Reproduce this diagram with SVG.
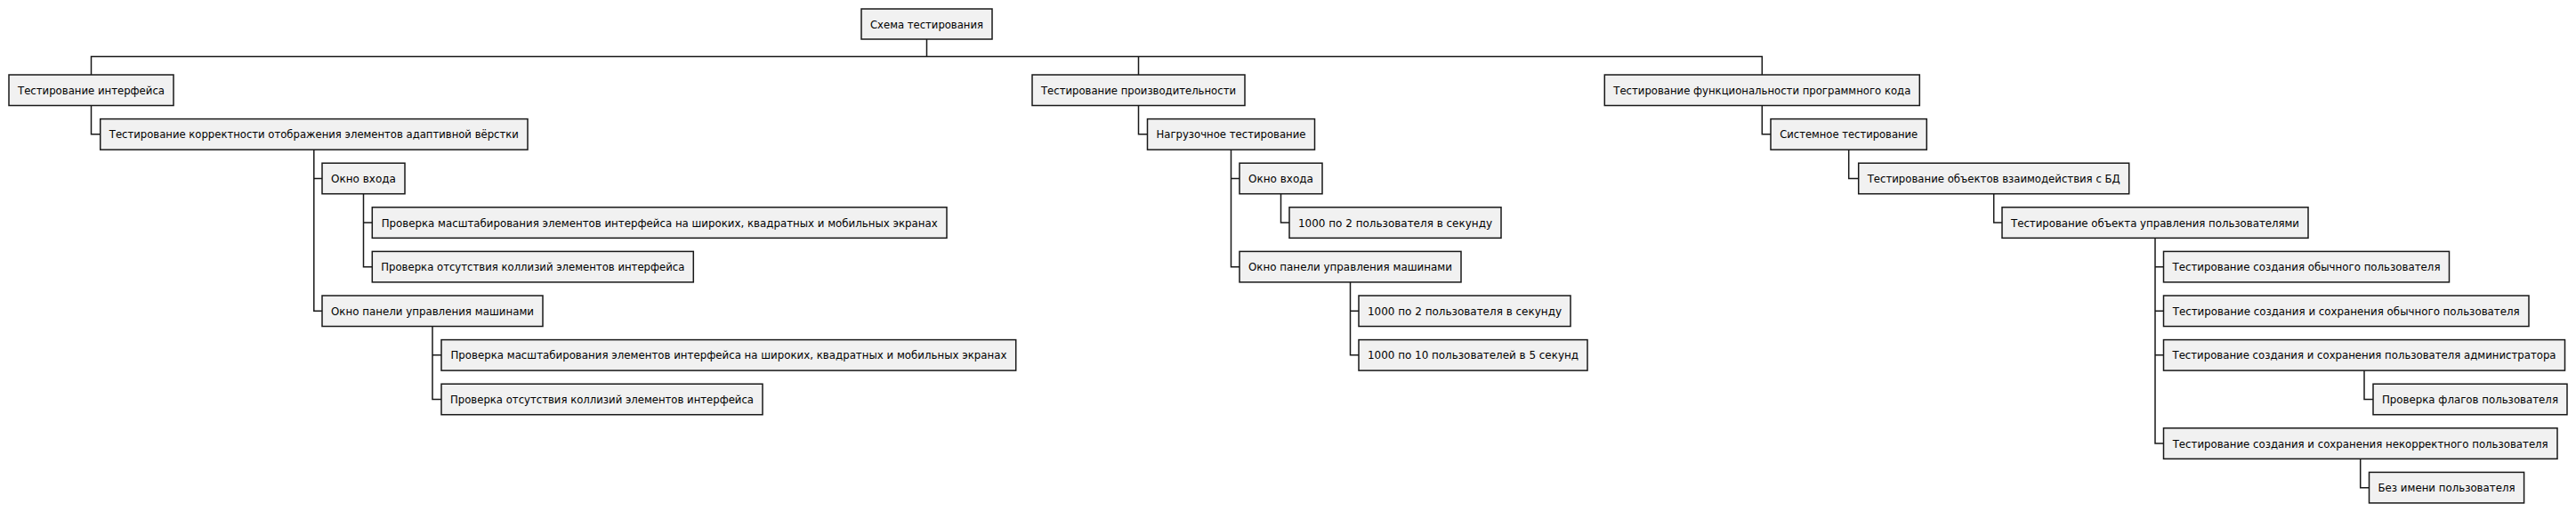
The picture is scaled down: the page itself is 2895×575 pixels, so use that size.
<svg xmlns="http://www.w3.org/2000/svg" width="2895" height="575" viewBox="0 0 2895 575">
<style>
.n rect{fill:#F1F1F1;stroke:#181818;stroke-width:1.5}
.n text{font-family:"DejaVu Sans","Verdana",sans-serif;font-size:12px;fill:#000;text-anchor:middle}
.c{fill:none;stroke:#181818;stroke-width:1.5}
</style>
<rect width="2895" height="575" fill="#FFFFFF"/>
<g id="connectors" class="c">
<path d="M102.5 84 V63.5 H1980.3 V84 M1041.5 44 V63.5 M1279.5 63.5 V84"/>
<path d="M102.5 118.5 V150.85 H112.7"/>
<path d="M352.8 168.1 V349.25 H362 M352.8 200.45 H362"/>
<path d="M408.5 217.7 V299.65 H418.3 M408.5 250.05 H418.3"/>
<path d="M486 366.5 V448.45 H496 M486 398.85 H496"/>
<path d="M1279.5 118.5 V150.85 H1289.5"/>
<path d="M1383.5 168.1 V299.65 H1393 M1383.5 200.45 H1393"/>
<path d="M1439.5 217.7 V250.05 H1449"/>
<path d="M1517.5 316.9 V398.85 H1527 M1517.5 349.25 H1527"/>
<path d="M1980.3 118.5 V150.85 H1990"/>
<path d="M2077.7 168.1 V200.45 H2088.7"/>
<path d="M2240.7 217.7 V250.05 H2250"/>
<path d="M2422 267.3 V498.05 H2431.5 M2422 299.65 H2431.5 M2422 349.25 H2431.5 M2422 398.85 H2431.5"/>
<path d="M2657 416.1 V448.45 H2667"/>
<path d="M2652.7 515.3 V547.65 H2662.5"/>
</g>
<g id="root" class="n"><rect x="968" y="10" width="147" height="34"/><text x="1041.5" y="31.7" textLength="127" lengthAdjust="spacingAndGlyphs">Схема тестирования</text></g>
<g id="n2" class="n"><rect x="10" y="84" width="185" height="34.5"/><text x="102.5" y="105.8" textLength="165" lengthAdjust="spacingAndGlyphs">Тестирование интерфейса</text></g>
<g id="n3" class="n"><rect x="112.7" y="133.6" width="480.3" height="34.5"/><text x="352.8" y="155.4" textLength="460" lengthAdjust="spacingAndGlyphs">Тестирование корректности отображения элементов адаптивной вёрстки</text></g>
<g id="n4" class="n"><rect x="362" y="183.2" width="93" height="34.5"/><text x="408.5" y="205" textLength="73" lengthAdjust="spacingAndGlyphs">Окно входа</text></g>
<g id="n5" class="n"><rect x="418.3" y="232.8" width="645.7" height="34.5"/><text x="741.2" y="254.6" textLength="625" lengthAdjust="spacingAndGlyphs">Проверка масштабирования элементов интерфейса на широких, квадратных и мобильных экранах</text></g>
<g id="n6" class="n"><rect x="418.3" y="282.4" width="361" height="34.5"/><text x="598.8" y="304.2" textLength="341" lengthAdjust="spacingAndGlyphs">Проверка отсутствия коллизий элементов интерфейса</text></g>
<g id="n7" class="n"><rect x="362" y="332" width="248" height="34.5"/><text x="486" y="353.8" textLength="228" lengthAdjust="spacingAndGlyphs">Окно панели управления машинами</text></g>
<g id="n8" class="n"><rect x="496" y="381.6" width="645.7" height="34.5"/><text x="818.9" y="403.4" textLength="625" lengthAdjust="spacingAndGlyphs">Проверка масштабирования элементов интерфейса на широких, квадратных и мобильных экранах</text></g>
<g id="n9" class="n"><rect x="496" y="431.2" width="361" height="34.5"/><text x="676.5" y="453" textLength="341" lengthAdjust="spacingAndGlyphs">Проверка отсутствия коллизий элементов интерфейса</text></g>
<g id="n10" class="n"><rect x="1160" y="84" width="239" height="34.5"/><text x="1279.5" y="105.8" textLength="219" lengthAdjust="spacingAndGlyphs">Тестирование производительности</text></g>
<g id="n11" class="n"><rect x="1289.5" y="133.6" width="188" height="34.5"/><text x="1383.5" y="155.4" textLength="168" lengthAdjust="spacingAndGlyphs">Нагрузочное тестирование</text></g>
<g id="n12" class="n"><rect x="1393" y="183.2" width="93" height="34.5"/><text x="1439.5" y="205" textLength="73" lengthAdjust="spacingAndGlyphs">Окно входа</text></g>
<g id="n13" class="n"><rect x="1449" y="232.8" width="238" height="34.5"/><text x="1568" y="254.6" textLength="218" lengthAdjust="spacingAndGlyphs">1000 по 2 пользователя в секунду</text></g>
<g id="n14" class="n"><rect x="1393" y="282.4" width="249" height="34.5"/><text x="1517.5" y="304.2" textLength="229" lengthAdjust="spacingAndGlyphs">Окно панели управления машинами</text></g>
<g id="n15" class="n"><rect x="1527" y="332" width="238" height="34.5"/><text x="1646" y="353.8" textLength="218" lengthAdjust="spacingAndGlyphs">1000 по 2 пользователя в секунду</text></g>
<g id="n16" class="n"><rect x="1527" y="381.6" width="257" height="34.5"/><text x="1655.5" y="403.4" textLength="237" lengthAdjust="spacingAndGlyphs">1000 по 10 пользователей в 5 секунд</text></g>
<g id="n17" class="n"><rect x="1803.3" y="84" width="354" height="34.5"/><text x="1980.3" y="105.8" textLength="334" lengthAdjust="spacingAndGlyphs">Тестирование функциональности программного кода</text></g>
<g id="n18" class="n"><rect x="1990" y="133.6" width="175.3" height="34.5"/><text x="2077.7" y="155.4" textLength="155" lengthAdjust="spacingAndGlyphs">Системное тестирование</text></g>
<g id="n19" class="n"><rect x="2088.7" y="183.2" width="304" height="34.5"/><text x="2240.7" y="205" textLength="284" lengthAdjust="spacingAndGlyphs">Тестирование объектов взаимодействия с БД</text></g>
<g id="n20" class="n"><rect x="2250" y="232.8" width="344" height="34.5"/><text x="2422" y="254.6" textLength="324" lengthAdjust="spacingAndGlyphs">Тестирование объекта управления пользователями</text></g>
<g id="n21" class="n"><rect x="2431.5" y="282.4" width="321" height="34.5"/><text x="2592" y="304.2" textLength="301" lengthAdjust="spacingAndGlyphs">Тестирование создания обычного пользователя</text></g>
<g id="n22" class="n"><rect x="2431.5" y="332" width="410.5" height="34.5"/><text x="2636.7" y="353.8" textLength="390" lengthAdjust="spacingAndGlyphs">Тестирование создания и сохранения обычного пользователя</text></g>
<g id="n23" class="n"><rect x="2431.5" y="381.6" width="451" height="34.5"/><text x="2657" y="403.4" textLength="431" lengthAdjust="spacingAndGlyphs">Тестирование создания и сохранения пользователя администратора</text></g>
<g id="n24" class="n"><rect x="2667" y="431.2" width="218" height="34.5"/><text x="2776" y="453" textLength="198" lengthAdjust="spacingAndGlyphs">Проверка флагов пользователя</text></g>
<g id="n25" class="n"><rect x="2431.5" y="480.8" width="442.5" height="34.5"/><text x="2652.7" y="502.6" textLength="422" lengthAdjust="spacingAndGlyphs">Тестирование создания и сохранения некорректного пользователя</text></g>
<g id="n26" class="n"><rect x="2662.5" y="530.4" width="174.1" height="34.5"/><text x="2749.5" y="552.2" textLength="154" lengthAdjust="spacingAndGlyphs">Без имени пользователя</text></g>
</svg>
